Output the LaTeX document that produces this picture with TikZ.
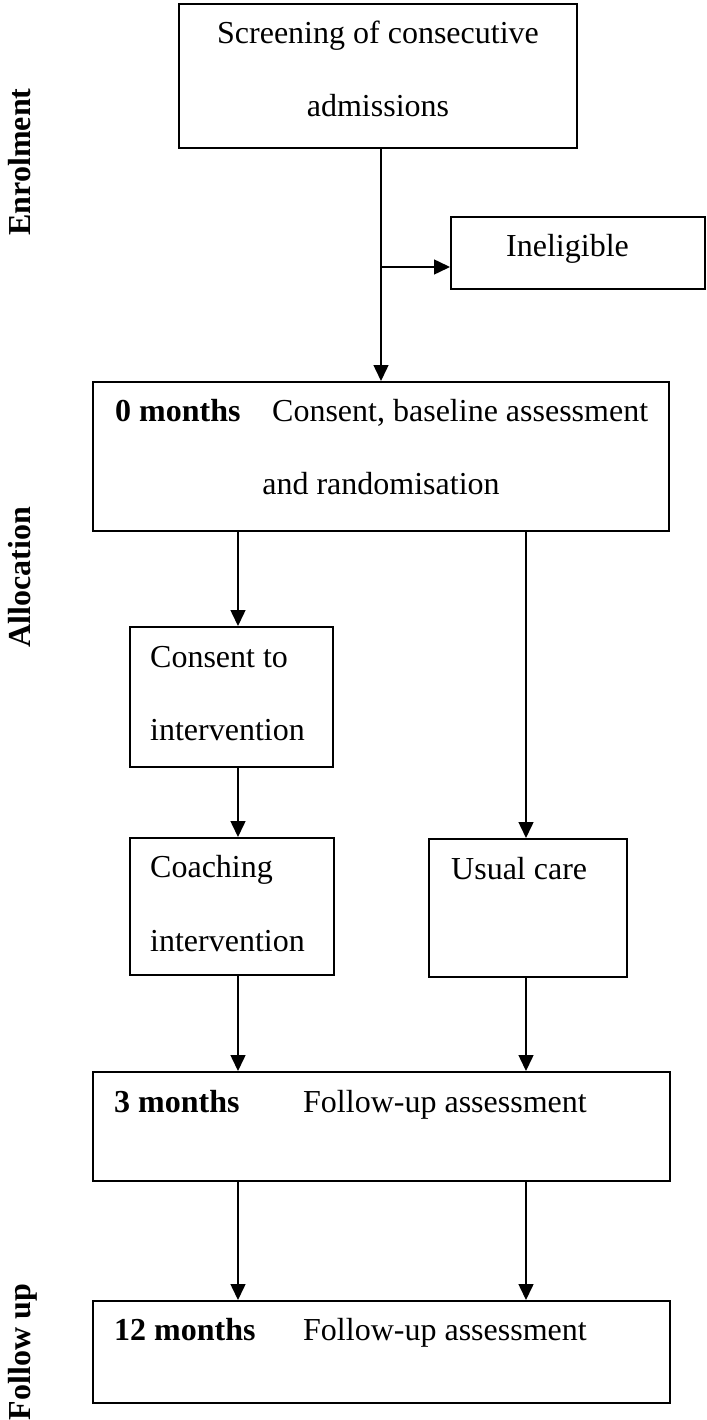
\documentclass[tikz,border=0pt]{standalone}
\usepackage{fontspec}
\setmainfont{Liberation Serif}
\usetikzlibrary{arrows.meta}
\begin{document}
\begin{tikzpicture}[x=1pt,y=-1pt,
  box/.style={draw,line width=2pt,rectangle,inner sep=0pt},
  txt/.style={inner sep=0pt,anchor=base west,font=\fontsize{32}{38}\selectfont},
  ctxt/.style={txt,anchor=base},
  btxt/.style={txt,font=\fontsize{32}{38}\selectfont\bfseries},
  phase/.style={inner sep=0pt,anchor=base,rotate=90,font=\fontsize{32}{38}\selectfont\bfseries},
  arr/.style={line width=1.5pt,-{Triangle[length=16pt,width=15pt]}}]
\useasboundingbox (0,0) rectangle (706,1420);

% phase labels down the left margin
\node[phase] (lenrol) at (30,162) {Enrolment};
\node[phase] (lalloc) at (30,577) {Allocation};
\node[phase] (lfollow) at (30,1352) {Follow up};

% boxes
\node[box,minimum width=398pt,minimum height=144pt] (scr) at (378,76) {};
\node[box,minimum width=254pt,minimum height=72pt] (inel) at (578,253) {};
\node[box,minimum width=576pt,minimum height=149pt] (cons) at (381,456.5) {};
\node[box,minimum width=203pt,minimum height=140pt] (cint) at (231.5,697) {};
\node[box,minimum width=204pt,minimum height=137pt] (coach) at (232,906.5) {};
\node[box,minimum width=198pt,minimum height=138pt] (usual) at (528,908) {};
\node[box,minimum width=577pt,minimum height=109pt] (m3) at (381.5,1126.5) {};
\node[box,minimum width=577pt,minimum height=102pt] (m12) at (381.5,1352) {};

% box texts
\node[ctxt] (t1) at (378,44) {Screening of consecutive};
\node[ctxt] (t2) at (378,117) {admissions};
\node[txt] (t3) at (506,257) {Ineligible};
\node[btxt] (t4) at (115,421) {0 months};
\node[txt] (t5) at (272,421) {Consent, baseline assessment};
\node[ctxt] (t6) at (381,494) {and randomisation};
\node[txt] (t7) at (150,667) {Consent to};
\node[txt] (t8) at (150,740) {intervention};
\node[txt] (t9) at (150,877) {Coaching};
\node[txt] (t10) at (150,951) {intervention};
\node[txt] (t11) at (451,879) {Usual care};
\node[btxt] (t12) at (114,1112) {3 months};
\node[txt] (t13) at (303,1112) {Follow-up assessment};
\node[btxt] (t14) at (114,1340) {12 months};
\node[txt] (t15) at (303,1340) {Follow-up assessment};

% connector columns
\coordinate (xl) at (238,0);
\coordinate (xr) at (526,0);
\coordinate (br) at (381,267);

% connectors
\draw[arr] (cons.north |- scr.south) -- (cons.north);
\draw[arr] (br) -- (inel.west |- br);
\draw[arr] (cons.south -| xl) -- (cint.north -| xl);
\draw[arr] (cons.south -| xr) -- (usual.north -| xr);
\draw[arr] (cint.south -| xl) -- (coach.north -| xl);
\draw[arr] (coach.south -| xl) -- (m3.north -| xl);
\draw[arr] (usual.south -| xr) -- (m3.north -| xr);
\draw[arr] (m3.south -| xl) -- (m12.north -| xl);
\draw[arr] (m3.south -| xr) -- (m12.north -| xr);
\end{tikzpicture}
\end{document}
